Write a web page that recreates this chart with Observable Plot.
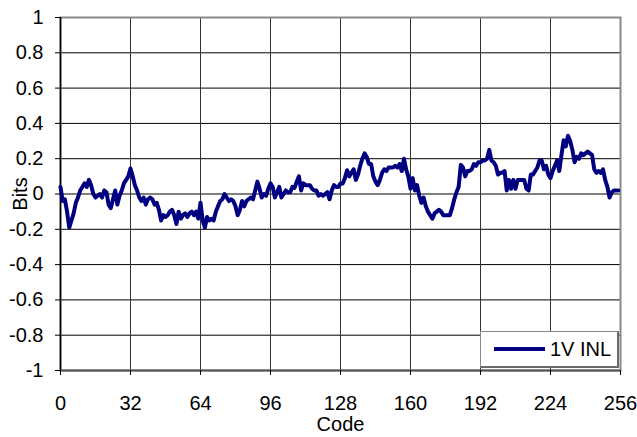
<!DOCTYPE html>
<html>
<head>
<meta charset="utf-8">
<script src="https://cdn.jsdelivr.net/npm/d3@7"></script>
<script src="https://cdn.jsdelivr.net/npm/@observablehq/plot@0.6"></script>
<style>
  html, body { margin: 0; padding: 0; background: #fff; }
  #wrap { position: relative; width: 637px; height: 437px; font-family: 'Liberation Sans', Arial, sans-serif; }
  #legend { position: absolute; left: 480px; top: 331px; width: 139px; height: 37px; box-sizing: border-box;
            border: 1px solid #8a8a8a; border-right: 2px solid #6a6a6a; border-bottom: 2px solid #6a6a6a; background: #fff;
            display: flex; align-items: center; }
  #legend svg { margin-left: 13px; }
  #legend span { font-size: 20px; margin-left: 5px; color: #000; }
</style>
</head>
<body>
<div id="wrap"></div>
<script>
const seriesName = "1V INL";
const xLabel = "Code";
const yLabel = "Bits";
const xTicks = [0, 32, 64, 96, 128, 160, 192, 224, 256];
const yTicks = [-1, -0.8, -0.6, -0.4, -0.2, 0, 0.2, 0.4, 0.6, 0.8, 1];
const inl = [
  0.04, -0.04, -0.03, -0.10, -0.19, -0.15, -0.11, -0.05, -0.02, 0.02,
  0.04, 0.06, 0.04, 0.08, 0.05, 0.0, -0.02, -0.01, 0.0, -0.02,
  0.02, 0.01, -0.06, -0.08, -0.03, 0.02, -0.06, -0.01, 0.02, 0.06,
  0.08, 0.10, 0.145, 0.10, 0.05, 0.02, -0.02, -0.04, -0.02, -0.06,
  -0.03, -0.02, -0.03, -0.06, -0.05, -0.09, -0.15, -0.12, -0.13, -0.12,
  -0.10, -0.09, -0.12, -0.17, -0.10, -0.14, -0.12, -0.11, -0.13, -0.11,
  -0.10, -0.12, -0.10, -0.14, -0.05, -0.15, -0.19, -0.13, -0.15, -0.14,
  -0.15, -0.10, -0.07, -0.04, -0.03, 0.0, -0.02, -0.04, -0.03, -0.04,
  -0.07, -0.12, -0.09, -0.04, -0.07, -0.04, -0.03, -0.02, -0.03, 0.02,
  0.07, 0.03, -0.02, 0.0, -0.01, 0.03, 0.06, 0.04, -0.02, 0.01,
  0.04, -0.02, 0.0, 0.02, 0.01, 0.01, 0.04, 0.035, 0.07, 0.10,
  0.02, 0.06, 0.05, 0.05, 0.05, 0.03, 0.02, 0.02, -0.01, 0.0,
  -0.01, 0.0, 0.01, -0.03, 0.02, 0.05, 0.04, 0.04, 0.06, 0.06,
  0.09, 0.135, 0.10, 0.12, 0.14, 0.08, 0.11, 0.16, 0.20, 0.23,
  0.21, 0.17, 0.17, 0.10, 0.07, 0.05, 0.08, 0.12, 0.14, 0.13,
  0.15, 0.15, 0.15, 0.16, 0.15, 0.17, 0.13, 0.20, 0.14, 0.10,
  0.03, 0.09, 0.02, 0.05, -0.01, -0.05, -0.02, -0.07, -0.10, -0.12,
  -0.14, -0.11, -0.10, -0.09, -0.10, -0.12, -0.12, -0.12, -0.12, -0.08,
  -0.03, 0.01, 0.04, 0.165, 0.15, 0.10, 0.13, 0.13, 0.14, 0.17,
  0.16, 0.18, 0.18, 0.19, 0.19, 0.20, 0.25, 0.19, 0.18, 0.16,
  0.11, 0.12, 0.12, 0.13, 0.02, 0.08, 0.03, 0.08, 0.03, 0.08,
  0.08, 0.08, 0.08, 0.03, 0.02, 0.11, 0.11, 0.13, 0.15, 0.19,
  0.19, 0.14, 0.16, 0.11, 0.09, 0.13, 0.16, 0.19, 0.13, 0.22,
  0.305, 0.27, 0.33, 0.30, 0.25, 0.18, 0.21, 0.20, 0.23, 0.22,
  0.23, 0.24, 0.23, 0.22, 0.14, 0.12, 0.13, 0.12, 0.14, 0.08,
  0.04, -0.02, 0.01, 0.02, 0.02, 0.02
];
const codes = inl.map((_, i) => i);
const data = codes.map((c, i) => ({code: c, value: inl[i]}));
const fmtY = d => String(Math.round(d * 10) / 10);

const chart = Plot.plot({
  width: 637,
  height: 437,
  marginLeft: 60,
  marginRight: 17,
  marginTop: 17,
  marginBottom: 67,
  style: { fontFamily: "'Liberation Sans', Arial, sans-serif", fontSize: "20px", color: "#000", background: "#fff", overflow: "visible" },
  x: { domain: [0, 256] },
  y: { domain: [-1, 1] },
  marks: [
    Plot.gridY(yTicks, { stroke: "#000", strokeOpacity: 1, strokeWidth: 1 }),
    Plot.gridX(xTicks, { stroke: "#333", strokeOpacity: 1, strokeWidth: 1 }),
    Plot.frame({ stroke: "#888", strokeWidth: 2 }),
    Plot.ruleX([0], { stroke: "#000", strokeWidth: 1.5 }),
    Plot.ruleY([-1], { stroke: "#555", strokeWidth: 2 }),
    Plot.axisX(xTicks, { tickSize: 5, tickPadding: 20, tickFormat: d => String(d), label: xLabel, labelAnchor: "center", labelArrow: "none", labelOffset: 60 }),
    Plot.axisY(yTicks, { tickSize: 5, tickPadding: 12, tickFormat: fmtY, label: yLabel, labelAnchor: "center", labelArrow: "none", labelOffset: 48 }),
    Plot.line(data, { x: "code", y: "value", stroke: "#000080", strokeWidth: 4, strokeLinejoin: "round" })
  ]
});
const wrap = document.getElementById("wrap");
wrap.appendChild(chart);
const legend = document.createElement("div");
legend.id = "legend";
legend.innerHTML = `<svg width="51" height="6"><line x1="0" y1="3" x2="51" y2="3" stroke="#000080" stroke-width="4"/></svg><span>${seriesName}</span>`;
wrap.appendChild(legend);
</script>
</body>
</html>
